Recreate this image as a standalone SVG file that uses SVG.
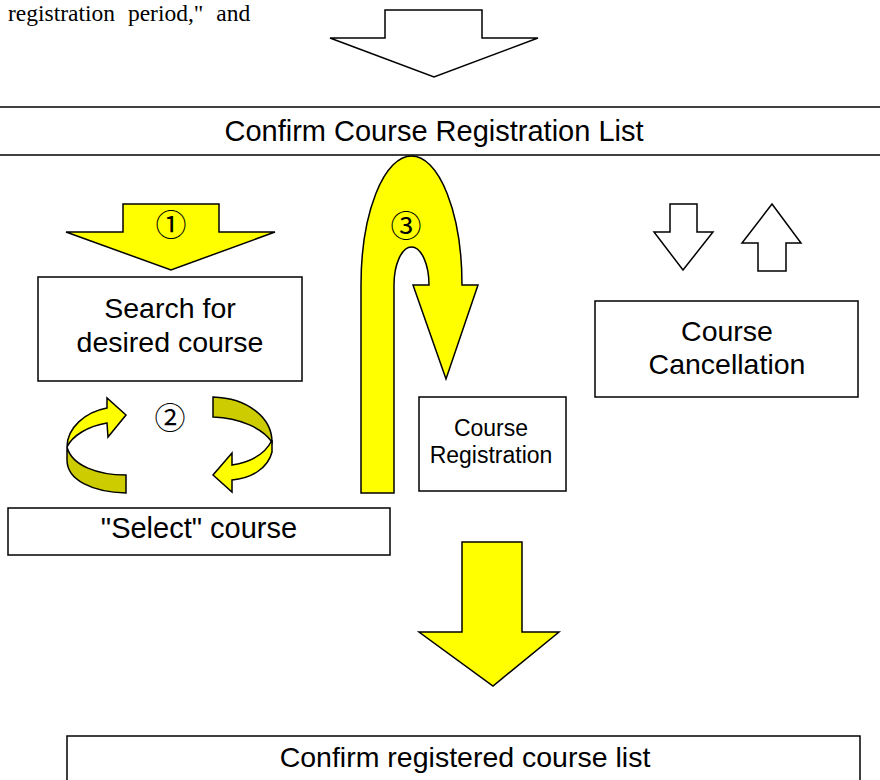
<svg xmlns="http://www.w3.org/2000/svg" width="880" height="780" viewBox="0 0 880 780">
<style>
  .box{fill:#fff;stroke:#000;stroke-width:1.5}
  .lbl{font-family:"Liberation Sans",Arial,sans-serif;fill:#000;text-anchor:middle}
  .ya{fill:#ffff00;stroke:#000;stroke-width:1.5;stroke-linejoin:miter}
  .oa{fill:#cccc00;stroke:#000;stroke-width:1.5}
  .wa{fill:#fff;stroke:#000;stroke-width:1.5}
  .num{font-family:"Noto Sans CJK JP","DejaVu Sans",sans-serif;font-size:31px;text-anchor:middle;fill:#000}
</style>
<rect width="880" height="780" fill="#fff"/>
<text x="8" y="20.5" font-family="Liberation Serif,serif" font-size="23.5" word-spacing="7">registration period," and</text>

<g id="connectors">
  <polygon id="top-arrow" class="wa" points="385,10 482,10 482,38 538,38 434,77 330,38 385,38"/>
  <polygon id="arrow1" class="ya" points="123,204 219,204 219,232 275,232 171,270 66,232 123,232"/>
  <text class="num" x="171" y="236">①</text>
  <g id="cycle-left">
    <path class="oa" d="M67,447 C72,466 98,475 126,475 L126,493 C92,492 67,480 67,460 Z"/>
    <path class="ya" d="M107,408 L107,398 L126,415 L108,437 L107,423 C88,426 72,436 67,447 C67,428 85,412 107,408 Z"/>
  </g>
  <g id="cycle-right">
    <path class="oa" d="M213,397 L213,417 C240,418 262,428 272,442 C272,418 248,398 213,397 Z"/>
    <path class="ya" d="M272,440 L272,452 C268,468 252,478 232,480 L232,492 L213,475 L232,453 L232,465 C250,462 265,455 272,440 Z"/>
  </g>
  <text class="num" x="170" y="429">②</text>
  <path id="arrow3" class="ya" d="M361,493 L361,285 A50.5,129 0 0 1 462,285 L478,285 L446,379 L413,285 L429,285 A17.5,38 0 0 0 394,285 L394,493 Z"/>
  <text class="num" x="406" y="237">③</text>
  <polygon id="down-small" class="wa" points="670,204 697,204 697,232 713,232 683,270 654,232 670,232"/>
  <polygon id="up-small" class="wa" points="772,204 801,243 786,243 786,271 758,271 758,243 742,243"/>
  <polygon id="big-down" class="ya" points="462,542 522,542 522,632 559,632 493,686 419,632 462,632"/>
</g>

<g id="header">
  <line x1="0" y1="107" x2="880" y2="107" stroke="#000" stroke-width="1.5"/>
  <line x1="0" y1="155" x2="880" y2="155" stroke="#000" stroke-width="1.5"/>
  <text class="lbl" x="434" y="141" font-size="29">Confirm Course Registration List</text>
</g>
<g id="search">
  <rect class="box" x="38" y="277" width="264" height="104"/>
  <text class="lbl" x="170" y="318" font-size="28.5">Search for</text>
  <text class="lbl" x="170" y="352" font-size="28.5">desired course</text>
</g>
<g id="select">
  <rect class="box" x="8" y="508" width="382" height="47"/>
  <text class="lbl" x="199" y="538" font-size="29">"Select" course</text>
</g>
<g id="registration">
  <rect class="box" x="419" y="397" width="147" height="94"/>
  <text class="lbl" x="491" y="436" font-size="23">Course</text>
  <text class="lbl" x="491" y="463" font-size="23">Registration</text>
</g>
<g id="cancellation">
  <rect class="box" x="595" y="301" width="263" height="96"/>
  <text class="lbl" x="727" y="341" font-size="28.5">Course</text>
  <text class="lbl" x="727" y="374" font-size="28.5">Cancellation</text>
</g>
<g id="confirm-list">
  <rect class="box" x="67" y="736" width="793" height="60"/>
  <text class="lbl" x="465" y="767" font-size="28.5">Confirm registered course list</text>
</g>
</svg>
